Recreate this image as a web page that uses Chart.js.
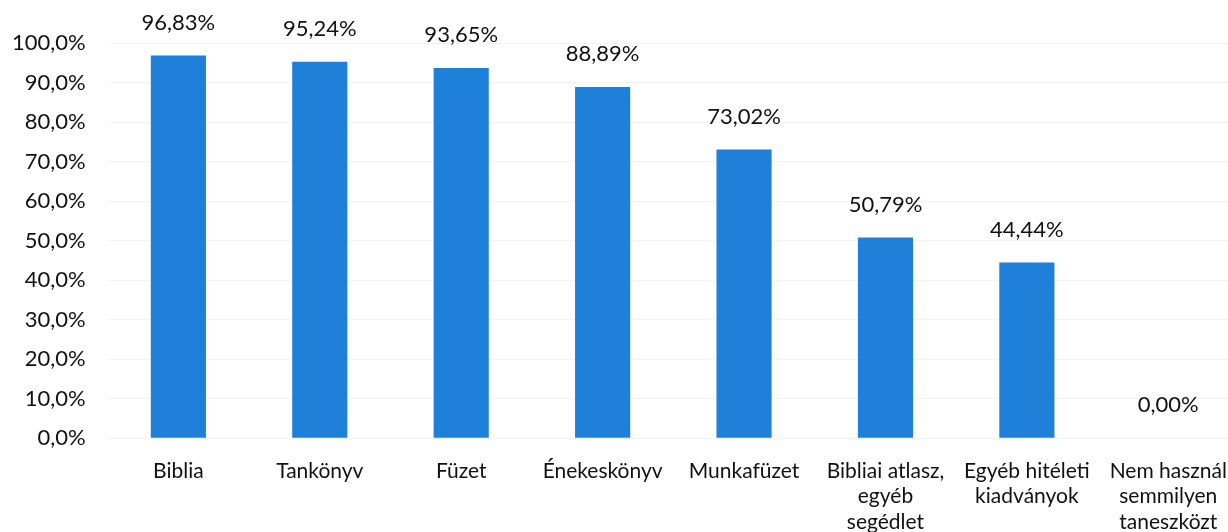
<!DOCTYPE html>
<html>
<head>
<meta charset="utf-8">
<script src="https://cdn.jsdelivr.net/npm/chart.js@4"></script>
<style>
  html, body { margin: 0; padding: 0; background: #fff; }
  #wrap { width: 1228px; height: 532px; overflow: hidden; }
</style>
</head>
<body>
<div id="wrap"><canvas id="chart" width="1239" height="547"></canvas></div>
<script>
// categories and shares (percent) as printed on the chart
const categories = [
  "Biblia",
  "Tankönyv",
  "Füzet",
  "Énekeskönyv",
  "Munkafüzet",
  ["Bibliai atlasz,", "egyéb", "segédlet"],
  ["Egyéb hitéleti", "kiadványok"],
  ["Nem használ", "semmilyen", "taneszközt"]
];
const shares = [96.83, 95.24, 93.65, 88.89, 73.02, 50.79, 44.44, 0.00];
const yTicks = [0, 10, 20, 30, 40, 50, 60, 70, 80, 90, 100];

const FONT = "Lato, 'Open Sans', sans-serif";
const fmt = (v, d) => v.toFixed(d).replace(".", ",") + "%";

// value labels above each bar
const valueLabels = {
  id: "valueLabels",
  afterDatasetsDraw(chart) {
    const ctx = chart.ctx;
    const meta = chart.getDatasetMeta(0);
    ctx.save();
    ctx.font = "22px " + FONT;
    ctx.fillStyle = "#111";
    ctx.textAlign = "center";
    ctx.textBaseline = "middle";
    meta.data.forEach((bar, i) => {
      ctx.fillText(fmt(shares[i], 2), bar.x, bar.y - 33);
    });
    ctx.restore();
  }
};

new Chart(document.getElementById("chart").getContext("2d"), {
  type: "bar",
  data: {
    labels: categories,
    datasets: [{
      data: shares,
      backgroundColor: "#1f80d9",
      barPercentage: 0.39,
      categoryPercentage: 1
    }]
  },
  options: {
    responsive: false,
    animation: false,
    layout: { padding: { top: 43, left: -10, right: 0, bottom: 0 } },
    plugins: {
      legend: { display: false },
      tooltip: { enabled: false }
    },
    scales: {
      x: {
        grid: { display: false },
        border: { display: false },
        ticks: {
          color: "#111",
          font: { family: FONT, size: 21, lineHeight: 1.22 },
          padding: 12,
          maxRotation: 0,
          autoSkip: false
        }
      },
      y: {
        min: 0,
        max: 100,
        afterBuildTicks: (axis) => { axis.ticks = yTicks.map((v) => ({ value: v })); },
        grid: { color: "rgba(0,0,0,0.05)", drawTicks: false },
        border: { display: false },
        ticks: {
          color: "#111",
          font: { family: FONT, size: 22 },
          padding: 22,
          callback: (v) => fmt(v, 1)
        }
      }
    }
  },
  plugins: [valueLabels]
});
</script>
</body>
</html>
